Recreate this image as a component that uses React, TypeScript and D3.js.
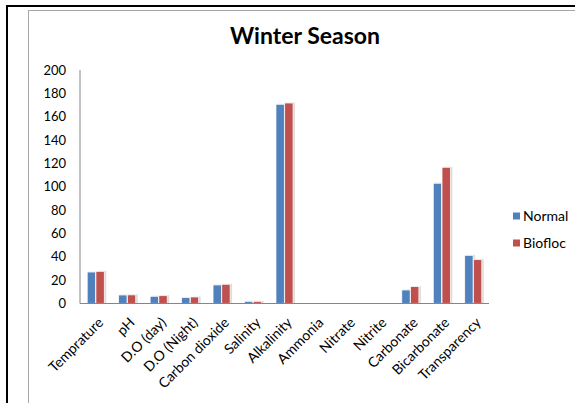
import { useEffect, useRef } from 'react';
import * as d3 from 'd3';

const categories = [
  'Temprature', 'pH', 'D.O (day)', 'D.O (Night)', 'Carbon dioxide', 'Salinity',
  'Alkalinity', 'Ammonia', 'Nitrate', 'Nitrite', 'Carbonate', 'Bicarbonate', 'Transparency',
];
const normal = [26.8, 7.1, 6.0, 4.8, 15.7, 1.7, 170.6, 0, 0, 0, 11.4, 102.9, 41.1];
const biofloc = [27.4, 7.2, 6.5, 5.4, 16.3, 1.7, 171.7, 0, 0, 0, 14.3, 116.6, 37.4];
const seriesNames = ['Normal', 'Biofloc'];
const yTicks = [0, 20, 40, 60, 80, 100, 120, 140, 160, 180, 200];

export default function App() {
  const svgRef = useRef<SVGSVGElement>(null);

  useEffect(() => {
    if (!svgRef.current) return;
    const width = 575;
    const height = 403;
    const margin = { top: 70, right: 86, bottom: 100, left: 80 };
    const font = 'Lato, Carlito, sans-serif';
    const colors = ['#4F81BD', '#C0504D'];

    const svg = d3.select(svgRef.current);
    svg.selectAll('*').remove();

    // frame borders
    svg.append('rect').attr('x', 0).attr('y', 0).attr('width', width).attr('height', height).attr('fill', '#fff');
    svg.append('line').attr('x1', 7).attr('x2', 7).attr('y1', 5).attr('y2', height)
      .attr('stroke', '#000').attr('stroke-width', 2);
    svg.append('line').attr('x1', 6).attr('x2', width).attr('y1', 6).attr('y2', 6)
      .attr('stroke', '#000').attr('stroke-width', 2);
    svg.append('line').attr('x1', 28.5).attr('x2', 28.5).attr('y1', 10).attr('y2', height)
      .attr('stroke', '#a6a6a6').attr('stroke-width', 1);
    svg.append('line').attr('x1', 28).attr('x2', width).attr('y1', 10.5).attr('y2', 10.5)
      .attr('stroke', '#a6a6a6').attr('stroke-width', 1);

    svg.append('text')
      .attr('x', 305).attr('y', 44)
      .attr('text-anchor', 'middle')
      .style('font-family', font).style('font-size', '23px').style('font-weight', 'bold')
      .attr('fill', '#000')
      .text('Winter Season');

    const x0 = d3.scaleBand()
      .domain(categories)
      .range([margin.left, 489])
      .paddingInner(0.43)
      .paddingOuter(0.215);

    const x1 = d3.scaleBand()
      .domain(seriesNames)
      .range([0, x0.bandwidth()])
      .padding(0.05);

    const y = d3.scaleLinear().domain([0, 200]).range([303.3, 70]);

    // y tick labels
    svg.append('g')
      .selectAll('text')
      .data(yTicks)
      .join('text')
      .attr('x', 66)
      .attr('y', d => y(d))
      .attr('dy', '0.35em')
      .attr('text-anchor', 'end')
      .style('font-family', font).style('font-size', '13px')
      .attr('fill', '#000')
      .text(d => d);

    const rows = categories.map((c, i) => ({ c, vals: [normal[i], biofloc[i]] }));

    const groups = svg.append('g')
      .selectAll('g')
      .data(rows)
      .join('g')
      .attr('transform', d => `translate(${x0(d.c)},0)`);

    // soft shadow
    groups.selectAll('rect.shadow')
      .data(d => d.vals.map((v, k) => ({ v, k })))
      .join('rect')
      .attr('class', 'shadow')
      .attr('x', d => x1(seriesNames[d.k])! + 1)
      .attr('y', d => y(d.v) - 0.5)
      .attr('width', x1.bandwidth() + 1)
      .attr('height', d => Math.max(0, y(0) - y(d.v) + 0.5))
      .attr('fill', '#dcdcdc')
      .attr('opacity', d => (d.v > 0 ? 1 : 0));

    groups.selectAll('rect.bar')
      .data(d => d.vals.map((v, k) => ({ v, k })))
      .join('rect')
      .attr('class', 'bar')
      .attr('x', d => x1(seriesNames[d.k])!)
      .attr('y', d => y(d.v))
      .attr('width', x1.bandwidth())
      .attr('height', d => y(0) - y(d.v))
      .attr('fill', d => colors[d.k])
      .attr('stroke', d => (d.v > 0 ? '#fff' : 'none'))
      .attr('stroke-width', 0.7);

    // axes
    svg.append('line').attr('x1', 80).attr('x2', 80).attr('y1', 70).attr('y2', 303.5)
      .attr('stroke', '#868686').attr('stroke-width', 1);
    svg.append('line').attr('x1', 80).attr('x2', 489).attr('y1', 303.5).attr('y2', 303.5)
      .attr('stroke', '#868686').attr('stroke-width', 1);

    // x labels
    svg.append('g')
      .selectAll('text')
      .data(categories)
      .join('text')
      .attr('transform', d => `translate(${x0(d)! + x0.bandwidth() / 2 + 5},${320}) rotate(-45)`)
      .attr('text-anchor', 'end')
      .attr('dy', '0.35em')
      .style('font-family', font).style('font-size', '14px')
      .attr('fill', '#000')
      .text(d => d);

    // legend
    const legend = svg.append('g')
      .selectAll('g')
      .data(seriesNames)
      .join('g')
      .attr('transform', (_, i) => `translate(513,${216 + i * 27})`);
    legend.append('rect')
      .attr('x', 0).attr('y', -3.5).attr('width', 7).attr('height', 7)
      .attr('fill', (_, i) => colors[i]);
    legend.append('text')
      .attr('x', 10).attr('y', 0).attr('dy', '0.35em')
      .style('font-family', font).style('font-size', '14px')
      .attr('fill', '#000')
      .text(d => d);
  }, []);

  return (
    <svg ref={svgRef} width={575} height={403}
      style={{ position: 'absolute', left: 0, top: 0, display: 'block' }} />
  );
}
